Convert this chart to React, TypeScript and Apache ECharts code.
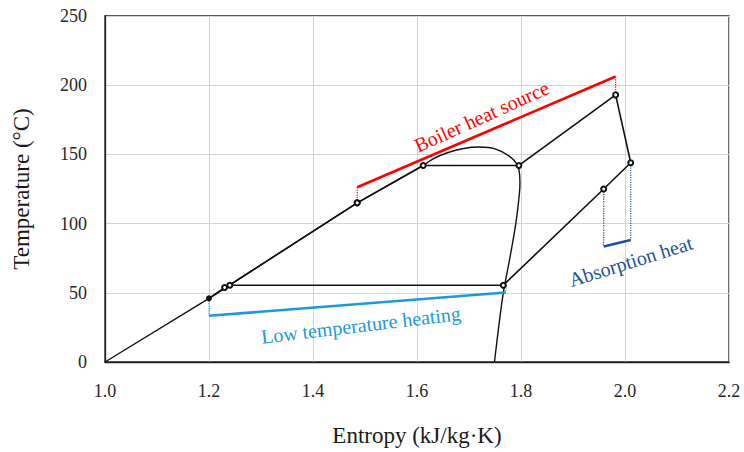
import React, { useEffect, useRef } from "react";
import * as echarts from "echarts";

const xTicks = { min: 1.0, max: 2.2, interval: 0.2 };
const yTicks = { min: 0, max: 250, interval: 50 };

const liquidLine: number[][] = [[1.0, 0], [1.2, 46], [1.485, 115], [1.612, 142]];
const dome: number[][] = [
  [1.612, 142], [1.631, 146.8], [1.657, 151], [1.69, 154.3], [1.72, 155.3],
  [1.75, 154], [1.778, 148.6], [1.79, 144], [1.796, 139], [1.798, 130],
  [1.797, 122], [1.79, 100], [1.778, 74], [1.766, 50], [1.757, 25], [1.749, 0],
];
const cycle: number[][] = [
  [1.485, 115], [1.612, 142], [1.796, 142], [1.982, 193], [2.011, 144],
  [1.959, 125], [1.766, 55.5], [1.24, 55.5], [1.23, 53.8], [1.2, 46], [1.485, 115],
];
const boilerLine: number[][] = [[1.485, 126.3], [1.982, 206.3]];
const boilerDrops: number[][][] = [
  [[1.485, 115], [1.485, 126.3]],
  [[1.982, 193], [1.982, 206.3]],
];
const lowHeatLine: number[][] = [[1.2, 33.4], [1.771, 50.2]];
const lowHeatDrops: number[][][] = [
  [[1.2, 46], [1.2, 33.4]],
  [[1.771, 55.5], [1.771, 50.2]],
];
const absorbLine: number[][] = [[1.959, 83.4], [2.011, 88.1]];
const absorbDrops: number[][][] = [
  [[1.959, 125], [1.959, 83.4]],
  [[2.011, 144], [2.011, 88.1]],
];

const labels = [
  { text: "Boiler heat source", at: [1.724, 177.4], angle: 24.3, color: "#ff0000" },
  { text: "Low temperature heating", at: [1.492, 26.7], angle: 6.8, color: "#1b9ad6" },
  { text: "Absorption heat", at: [2.011, 72.8], angle: 17.3, color: "#24509a" },
];

const SERIF = "'Liberation Serif', 'Times New Roman', serif";

export default function App() {
  const ref = useRef<HTMLDivElement>(null);
  useEffect(() => {
    if (!ref.current) return;
    const chart = echarts.init(ref.current, null, { renderer: "svg" });
    const lineS = (data: number[][], color: string, width: number, type: any = "solid", z = 2) => ({
      type: "line",
      data,
      showSymbol: false,
      symbol: "none",
      lineStyle: { color, width, type },
      silent: true,
      z,
    });
    const series: any[] = [
      lineS(liquidLine, "#111", 1.4),
      { ...lineS(dome, "#111", 1.4), smooth: 0.35 },
      {
        type: "line",
        data: cycle.map((p, i) =>
          i === 9
            ? { value: p, symbol: "circle", symbolSize: 6, itemStyle: { color: "#111" } }
            : { value: p }
        ),
        symbol: "emptyCircle",
        symbolSize: 5,
        showSymbol: true,
        itemStyle: { color: "#111", borderWidth: 1.2 },
        lineStyle: { color: "#111", width: 1.6 },
        silent: true,
        z: 3,
      },
      lineS(boilerLine, "#ff0000", 2.6),
      ...boilerDrops.map((d) => lineS(d, "#ff0000", 1.2, "dotted")),
      lineS(lowHeatLine, "#1b9ad6", 2.6),
      ...lowHeatDrops.map((d) => lineS(d, "#1b9ad6", 1.2, "dotted")),
      lineS(absorbLine, "#24509a", 2.6),
      ...absorbDrops.map((d) => lineS(d, "#24509a", 1.2, "dotted")),
    ];
    chart.setOption({
      animation: false,
      grid: { left: 105, right: 15, top: 16, bottom: 89, show: true, borderColor: "#222", borderWidth: 1.3 },
      xAxis: {
        type: "value",
        min: xTicks.min,
        max: xTicks.max,
        interval: xTicks.interval,
        name: "Entropy (kJ/kg·K)",
        nameLocation: "middle",
        nameGap: 62,
        nameTextStyle: { fontFamily: SERIF, fontSize: 23, color: "#1a1a1a" },
        axisLine: { show: true, lineStyle: { color: "#222", width: 1.3 } },
        axisTick: { show: false },
        axisLabel: { fontFamily: SERIF, fontSize: 18, color: "#262626", margin: 20, formatter: (v: number) => v.toFixed(1) },
        splitLine: { show: true, lineStyle: { color: "#d4d4d4", width: 1 } },
      },
      yAxis: {
        type: "value",
        min: yTicks.min,
        max: yTicks.max,
        interval: yTicks.interval,
        name: "Temperature (°C)",
        nameLocation: "middle",
        nameGap: 72,
        nameTextStyle: { fontFamily: SERIF, fontSize: 23, color: "#1a1a1a" },
        axisLine: { show: true, lineStyle: { color: "#222", width: 1.3 } },
        axisTick: { show: false },
        axisLabel: { fontFamily: SERIF, fontSize: 18, color: "#262626", margin: 18 },
        splitLine: { show: true, lineStyle: { color: "#d4d4d4", width: 1 } },
      },
      series,
    });
    const graphic = labels.map((l) => {
      const [px, py] = chart.convertToPixel({ gridIndex: 0 }, l.at) as number[];
      return {
        type: "text",
        x: px,
        y: py,
        rotation: (l.angle * Math.PI) / 180,
        silent: true,
        z: 10,
        style: {
          text: l.text,
          fill: l.color,
          font: `20px ${SERIF}`,
          align: "center",
          verticalAlign: "middle",
        },
      };
    });
    chart.setOption({ graphic });
    return () => chart.dispose();
  }, []);
  return (
    <div
      ref={ref}
      style={{ position: "absolute", left: 0, top: 0, width: 744, height: 452 }}
    />
  );
}
